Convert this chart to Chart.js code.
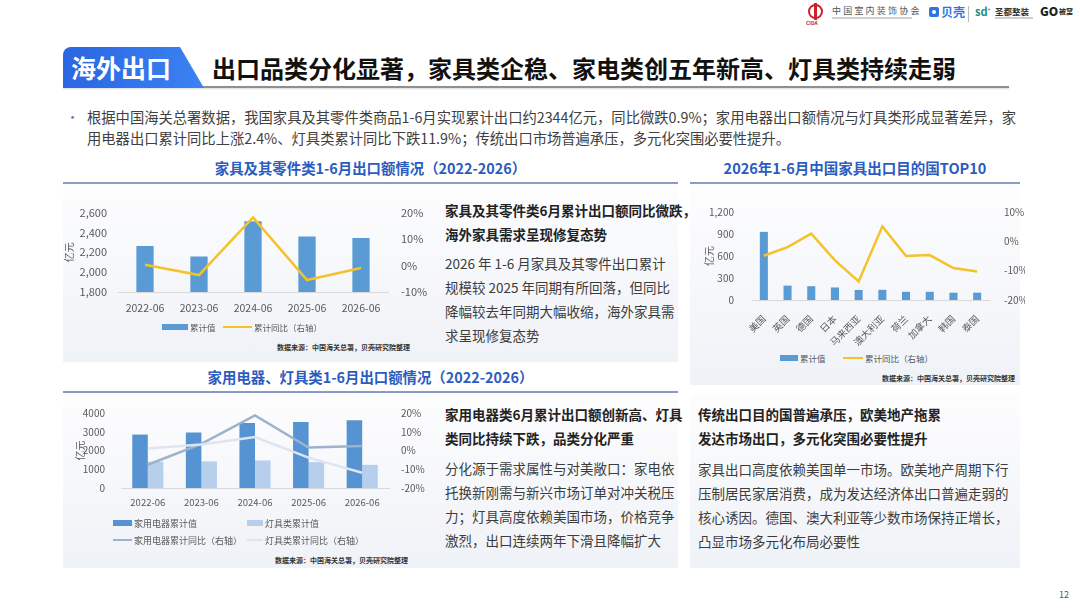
<!DOCTYPE html>
<html lang="zh-CN">
<head>
<meta charset="utf-8">
<script src="https://cdn.jsdelivr.net/npm/chart.js@4.4.1/dist/chart.umd.min.js"></script>
<style>
  html, body { margin: 0; padding: 0; }
  body {
    width: 1080px; height: 608px; position: relative; overflow: hidden; background: #fff;
    font-family: "Noto Sans CJK SC", "Noto Sans", sans-serif; color: #333;
  }
  .abs { position: absolute; white-space: nowrap; }
  canvas { position: absolute; }
  .panel { position: absolute; background: linear-gradient(#fdfdfe, #eff2f7); }
  .hdr { position: absolute; text-align: center; font-weight: 700; color: #2b5cc0; line-height: 20px; }
  .hline { position: absolute; height: 2px; background: #8a9bc6; }
  .bold { font-weight: 700; color: #222; font-size: 13.5px; line-height: 24px; }
  .body { color: #3c3c3c; font-size: 13.5px; line-height: 24px; }
  .src { font-size: 7px; font-weight: 700; color: #333; line-height: 10px; }
  .leg { position: absolute; display: flex; align-items: center; color: #595959; white-space: nowrap; }
</style>
</head>
<body>

<!-- logos -->
<div class="abs" style="left:808px;top:4px;width:15px;height:15px;border:2px solid #c8232c;border-radius:50%;box-sizing:border-box;"></div>
<div class="abs" style="left:814px;top:3px;width:3px;height:17px;background:#c8232c;"></div>
<div class="abs" style="left:806px;top:19px;font-size:5px;color:#c8232c;font-weight:700;">CIDA</div>
<div class="abs" style="left:832px;top:4px;font-size:9px;color:#555;letter-spacing:2.2px;">中国室内装饰协会</div>
<div class="abs" style="left:832px;top:17px;width:80px;height:2px;background:#cfcfcf;"></div>
<div class="abs" style="left:929px;top:7px;width:10px;height:10px;border-radius:2px;background:#2f73e8;"></div>
<div class="abs" style="left:932px;top:10px;width:4px;height:4px;border-radius:50%;background:#fff;"></div>
<div class="abs" style="left:941px;top:3px;font-size:12px;color:#2f73e8;font-weight:700;">贝壳</div>
<div class="abs" style="left:968px;top:6px;width:1px;height:16px;background:#bbb;"></div>
<div class="abs" style="left:975px;top:3px;font-size:11px;color:#1c8f83;font-weight:700;">sd<sup style="font-size:5px">+</sup></div>
<div class="abs" style="left:995px;top:5px;font-size:8.5px;color:#333;font-weight:700;">圣都整装</div>
<div class="abs" style="left:995px;top:17px;width:38px;height:2px;background:#cfcfcf;"></div>
<div class="abs" style="left:1040px;top:2px;font-size:12px;color:#222;font-weight:900;">GO</div>
<div class="abs" style="left:1059px;top:6px;font-size:7px;color:#222;font-weight:700;">被窝</div>

<!-- title bar -->
<div class="abs" style="left:63px;top:86px;width:946px;height:2px;background:#8f8f8f;box-shadow:0 1px 2px rgba(0,0,0,0.15);"></div>
<div class="abs" style="left:63px;top:47px;width:141px;height:41px;background:linear-gradient(90deg,#2a66e0,#3b82f3);border-top-left-radius:8px;clip-path:polygon(0 0,117px 0,141px 100%,0 100%);"></div>
<div class="abs" style="left:71px;top:47px;line-height:41px;font-size:25px;font-weight:700;color:#fff;">海外出口</div>
<div class="abs" style="left:212px;top:47px;line-height:41px;font-size:24px;font-weight:700;color:#111;">出口品类分化显著，家具类企稳、家电类创五年新高、灯具类持续走弱</div>

<!-- lead paragraph -->
<div class="abs" style="left:66px;top:106px;font-size:13px;line-height:21px;color:#5b7fbf;">•</div>
<div class="abs" style="left:87px;top:106px;font-size:14.3px;line-height:21px;color:#404040;">根据中国海关总署数据，我国家具及其零件类商品1-6月实现累计出口约2344亿元，同比微跌0.9%；家用电器出口额情况与灯具类形成显著差异，家<br>用电器出口累计同比上涨2.4%、灯具类累计同比下跌11.9%；传统出口市场普遍承压，多元化突围必要性提升。</div>

<!-- panels -->
<div class="panel" style="left:63px;top:185px;width:615px;height:177px;"></div>
<div class="panel" style="left:690px;top:185px;width:330px;height:200px;"></div>
<div class="panel" style="left:63px;top:394px;width:615px;height:174px;"></div>
<div class="panel" style="left:690px;top:394px;width:330px;height:174px;"></div>

<!-- section headers -->
<div class="hdr" style="left:63px;top:158px;width:615px;font-size:14.4px;">家具及其零件类1-6月出口额情况（2022-2026）</div>
<div class="hline" style="left:63px;top:182px;width:615px;"></div>
<div class="hdr" style="left:690px;top:158px;width:330px;font-size:14.5px;">2026年1-6月中国家具出口目的国TOP10</div>
<div class="hline" style="left:690px;top:182px;width:330px;"></div>
<div class="hdr" style="left:63px;top:367px;width:615px;font-size:14.4px;">家用电器、灯具类1-6月出口额情况（2022-2026）</div>
<div class="hline" style="left:63px;top:391px;width:615px;"></div>

<!-- commentary -->
<div class="abs bold" style="left:445px;top:198px;">家具及其零件类6月累计出口额同比微跌，<br>海外家具需求呈现修复态势</div>
<div class="abs body" style="left:445px;top:251px;">2026 年 1-6 月家具及其零件出口累计<br>规模较 2025 年同期有所回落，但同比<br>降幅较去年同期大幅收缩，海外家具需<br>求呈现修复态势</div>

<div class="abs bold" style="left:445px;top:402px;">家用电器类6月累计出口额创新高、灯具<br>类同比持续下跌，品类分化严重</div>
<div class="abs body" style="left:445px;top:456px;">分化源于需求属性与对美敞口：家电依<br>托换新刚需与新兴市场订单对冲关税压<br>力；灯具高度依赖美国市场，价格竞争<br>激烈，出口连续两年下滑且降幅扩大</div>

<div class="abs bold" style="left:698px;top:402px;">传统出口目的国普遍承压，欧美地产拖累<br>发达市场出口，多元化突围必要性提升</div>
<div class="abs body" style="left:698px;top:457px;">家具出口高度依赖美国单一市场。欧美地产周期下行<br>压制居民家居消费，成为发达经济体出口普遍走弱的<br>核心诱因。德国、澳大利亚等少数市场保持正增长，<br>凸显市场多元化布局必要性</div>

<!-- charts -->
<canvas id="c1" width="380" height="125" style="left:63px;top:201px;"></canvas>
<canvas id="c2" width="335" height="150" style="left:690px;top:196px;"></canvas>
<canvas id="c3" width="380" height="120" style="left:63px;top:399px;"></canvas>

<div class="abs src" style="right:670px;top:342px;">数据来源：中国海关总署，贝壳研究院整理</div>
<div class="abs src" style="right:65px;top:373px;">数据来源：中国海关总署，贝壳研究院整理</div>
<div class="abs src" style="right:672px;top:555px;">数据来源：中国海关总署，贝壳研究院整理</div>

<div class="abs" style="left:1059px;top:588px;font-size:9px;color:#555;">12</div>

<script>
// furniture & parts, Jan-Jun cumulative exports
const years = ['2022-06', '2023-06', '2024-06', '2025-06', '2026-06'];
const furnValue = [2263, 2157, 2513, 2359, 2344];
const furnYoY = [0.3, -3.6, 18.2, -5.5, -0.9];

// top 10 destinations, 2026 Jan-Jun
const countries = ['美国', '英国', '德国', '日本', '马来西亚', '澳大利亚', '荷兰', '加拿大', '韩国', '泰国'];
const countryValue = [929, 196, 188, 171, 137, 139, 112, 112, 100, 100];
const countryYoY = [-4.9, -2.0, 2.6, -6.5, -13.7, 5.1, -5.0, -4.7, -9.1, -10.3];

// appliances vs lighting
const applianceValue = [2849, 2963, 3470, 3520, 3620];
const lightingValue = [1402, 1417, 1467, 1380, 1235];
const applianceYoY = [-7.6, 3.5, 18.7, 1.6, 2.4];
const lightingYoY = [1.1, 3.2, 7.2, -3.8, -11.9];

const BLUE = '#5b9bd5';
const YELLOW = '#f4c22b';
const APP_BAR = '#5593d3';
const LIGHT_BAR = '#b6cfec';
const APP_LINE = '#9db2cd';
const LIGHT_LINE = '#dde5f0';
const TICK = '#595959';

Chart.defaults.font.family = '"Noto Sans CJK SC", "Noto Sans", sans-serif';
Chart.defaults.color = TICK;
Chart.defaults.animation = false;
Chart.defaults.plugins.legend.display = false;
Chart.defaults.plugins.tooltip.enabled = false;

const fixWidth = w => s => { s.width = w; };
const fixHeight = h => s => { s.height = h; };
const pct = v => v + '%';

function valueAxis(min, max, step, size, pad, width, titlePad, fmt) {
    return {
        position: 'left', min, max,
        ticks: { stepSize: step, font: { size }, padding: pad, callback: fmt || (v => v) },
        grid: { display: false }, border: { display: false },
        title: { display: true, text: '亿元', font: { size: 10 }, padding: { top: titlePad, bottom: 0 } },
        afterFit: fixWidth(width)
    };
}

function pctAxis(min, max, size, pad, width) {
    return {
        position: 'right', min, max,
        ticks: { stepSize: 10, font: { size }, padding: pad, callback: pct },
        grid: { display: false }, border: { display: false },
        afterFit: fixWidth(width)
    };
}

function catAxis(size, pad, height, extra) {
    return Object.assign({
        grid: { display: false },
        border: { display: true, color: '#d9d9d9', width: 1 },
        ticks: { font: { size }, padding: pad, autoSkip: false },
        afterFit: fixHeight(height)
    }, extra || {});
}

const baseOpts = { responsive: false, maintainAspectRatio: false, layout: { padding: { top: 8, left: 0, right: 0, bottom: 0 } } };

new Chart(document.getElementById('c1'), {
    data: {
        labels: years,
        datasets: [
            { type: 'line', data: furnYoY, yAxisID: 'y1', borderColor: YELLOW, borderWidth: 2.5, pointRadius: 0, order: 0 },
            { type: 'bar', data: furnValue, yAxisID: 'y', backgroundColor: BLUE, barPercentage: 0.32, categoryPercentage: 1, order: 1 }
        ]
    },
    options: Object.assign({}, baseOpts, {
        scales: {
            x: catAxis(10.5, 2, 34),
            y: valueAxis(1800, 2600, 200, 11, 3, 55, 0, v => v.toLocaleString('en-US')),
            y1: pctAxis(-10, 20, 11, 5, 55)
        }
    })
});

new Chart(document.getElementById('c2'), {
    data: {
        labels: countries,
        datasets: [
            { type: 'line', data: countryYoY, yAxisID: 'y1', borderColor: YELLOW, borderWidth: 2.5, pointRadius: 0, order: 0 },
            { type: 'bar', data: countryValue, yAxisID: 'y', backgroundColor: BLUE, barPercentage: 0.34, categoryPercentage: 1, order: 1 }
        ]
    },
    options: Object.assign({}, baseOpts, {
        scales: {
            x: catAxis(9.5, 5, 46, { ticks: { font: { size: 9.5 }, padding: 5, autoSkip: false, minRotation: 45, maxRotation: 45 } }),
            y: valueAxis(0, 1200, 300, 10, 10, 62, 13, v => v.toLocaleString('en-US')),
            y1: pctAxis(-20, 10, 10, 7, 36)
        }
    })
});

new Chart(document.getElementById('c3'), {
    data: {
        labels: years,
        datasets: [
            { type: 'line', data: applianceYoY, yAxisID: 'y1', borderColor: APP_LINE, borderWidth: 2.5, pointRadius: 0, order: 1 },
            { type: 'line', data: lightingYoY, yAxisID: 'y1', borderColor: LIGHT_LINE, borderWidth: 2.5, pointRadius: 0, order: 0 },
            { type: 'bar', data: applianceValue, yAxisID: 'y', backgroundColor: APP_BAR, barPercentage: 1, categoryPercentage: 0.58, order: 2 },
            { type: 'bar', data: lightingValue, yAxisID: 'y', backgroundColor: LIGHT_BAR, barPercentage: 1, categoryPercentage: 0.58, order: 2 }
        ]
    },
    options: Object.assign({}, baseOpts, {
        scales: {
            x: catAxis(9.5, 1, 31),
            y: valueAxis(0, 4000, 1000, 10, 8, 58, 11),
            y1: pctAxis(-20, 20, 10, 4, 54)
        }
    })
});

// html legends
function legend(x, y, kind, color, text, size, sw) {
    const el = document.createElement('div');
    el.className = 'leg';
    el.style.left = x + 'px';
    el.style.top = (y - 8) + 'px';
    el.style.height = '16px';
    el.style.fontSize = size + 'px';
    const h = kind === 'bar' ? 6 : 2.5;
    el.innerHTML = `<span style="display:inline-block;width:${sw}px;height:${h}px;background:${color};margin-right:2px"></span>${text}`;
    document.body.appendChild(el);
}

legend(162, 327, 'bar', BLUE, '累计值', 8.5, 26);
legend(223, 327, 'line', YELLOW, '累计同比（右轴）', 8.5, 29);

legend(780, 358, 'bar', BLUE, '累计值', 8.5, 18);
legend(843, 358, 'line', YELLOW, '累计同比（右轴）', 8.5, 20);

legend(113, 523, 'bar', APP_BAR, '家用电器累计值', 9, 19);
legend(247, 523, 'bar', LIGHT_BAR, '灯具类累计值', 9, 16);
legend(113, 540, 'line', APP_LINE, '家用电器累计同比（右轴）', 9, 19);
legend(247, 540, 'line', LIGHT_LINE, '灯具类累计同比（右轴）', 9, 16);
</script>
</body>
</html>
